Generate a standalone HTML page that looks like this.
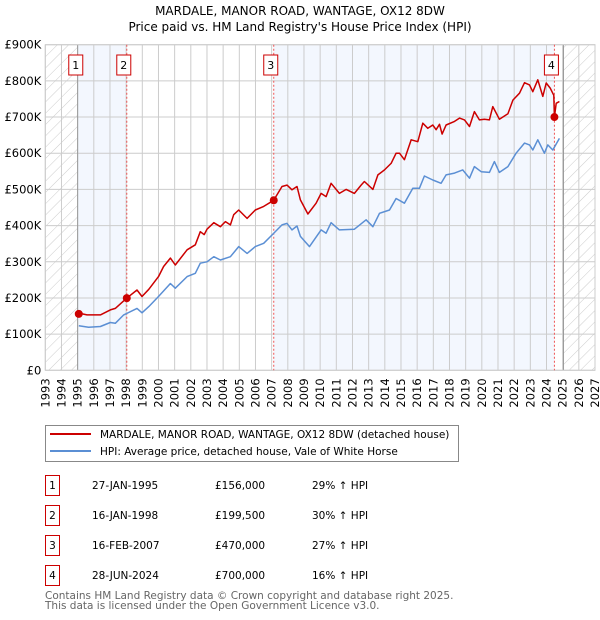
<!DOCTYPE html>
<html><head><meta charset="utf-8"><style>
body{margin:0;background:#fff;width:600px;height:620px;overflow:hidden;font-family:"DejaVu Sans","Liberation Sans",sans-serif}
svg{position:absolute;left:0;top:0}
</style></head><body>
<svg id="chart" width="600" height="620" font-family="DejaVu Sans, Liberation Sans, sans-serif">
<defs><pattern id="hatch" patternUnits="userSpaceOnUse" width="8" height="8" patternTransform="rotate(45)"><line x1="0" y1="0" x2="0" y2="8" stroke="#ccc" stroke-width="1"/></pattern></defs>
<text x="300" y="15" text-anchor="middle" font-size="12">MARDALE, MANOR ROAD, WANTAGE, OX12 8DW</text>
<text x="300" y="31" text-anchor="middle" font-size="12">Price paid vs. HM Land Registry's House Price Index (HPI)</text>
<g id="bg"></g><g id="grid"></g><g id="axes"></g><g id="series"></g><g id="marks"></g>
<g>
<rect x="45.5" y="425.5" width="413" height="36" fill="#fff" stroke="#888"/>
<line x1="50" y1="434" x2="91" y2="434" stroke="#cc0000" stroke-width="2"/>
<text x="100" y="438" font-size="10.5">MARDALE, MANOR ROAD, WANTAGE, OX12 8DW (detached house)</text>
<line x1="50" y1="451" x2="91" y2="451" stroke="#5b8fd4" stroke-width="2"/>
<text x="100" y="455" font-size="10.5">HPI: Average price, detached house, Vale of White Horse</text>
</g>
<g id="table" font-size="10.5"></g>
<text x="45" y="599" font-size="10.5" fill="#666">Contains HM Land Registry data © Crown copyright and database right 2025.</text>
<text x="45" y="609" font-size="10.5" fill="#666">This data is licensed under the Open Government Licence v3.0.</text>
</svg>
<script>
const hpiYears=[1995.07,1995.68,1996.41,1997.02,1997.33,1997.85,1998.67,1998.98,1999.4,2000.0,2000.74,2001.04,2001.77,2002.28,2002.59,2003.0,2003.42,2003.83,2004.45,2004.96,2005.48,2005.99,2006.51,2007.02,2007.64,2007.95,2008.26,2008.57,2008.78,2009.34,2010.06,2010.37,2010.68,2011.19,2012.12,2012.84,2013.26,2013.67,2014.29,2014.7,2015.21,2015.73,2016.14,2016.45,2016.97,2017.48,2017.79,2018.31,2018.82,2019.24,2019.54,2019.96,2020.47,2020.78,2021.09,2021.61,2022.12,2022.64,2022.95,2023.15,2023.46,2023.87,2024.08,2024.39,2024.8];
const hpiValues=[123,119,121,132,130,153,171,159,176,204,240,227,259,268,296,300,314,305,314,342,323,342,351,374,402,406,388,399,370,342,388,379,408,388,390,416,397,434,443,475,462,503,503,537,526,517,540,545,554,531,563,549,547,577,547,563,600,628,623,609,637,600,623,609,641];
const priceYears=[1995.07,1995.58,1996.41,1997.02,1997.33,1998.04,1998.67,1998.98,1999.4,2000.0,2000.32,2000.74,2001.04,2001.77,2002.28,2002.59,2002.83,2003.0,2003.42,2003.83,2004.14,2004.45,2004.65,2004.96,2005.48,2005.99,2006.51,2007.13,2007.64,2007.95,2008.26,2008.57,2008.78,2009.24,2009.75,2010.06,2010.37,2010.68,2011.19,2011.61,2012.12,2012.53,2012.74,2013.26,2013.57,2013.98,2014.39,2014.7,2014.91,2015.21,2015.63,2016.04,2016.35,2016.66,2016.97,2017.17,2017.38,2017.54,2017.79,2018.31,2018.62,2018.93,2019.24,2019.54,2019.85,2020.16,2020.47,2020.68,2021.09,2021.61,2021.92,2022.33,2022.64,2022.95,2023.15,2023.46,2023.77,2023.98,2024.23,2024.45,2024.49,2024.6,2024.8];
const priceValues=[158,153,153,167,171,199.5,222,204,224,259,287,310,291,333,347,383,375,390,408,397,411,402,430,443,420,443,453,470,508,512,499,508,471,432,462,489,480,517,489,500,489,512,522,500,540,554,572,600,600,582,637,632,683,669,678,665,680,653,678,688,697,692,674,715,692,694,692,729,694,709,747,766,795,789,770,803,757,794,780,760,700,738,743];
const saleYears=[1995.07,1998.04,2007.13,2024.49];
const saleValues=[156,199.5,470,700];
const saleLabels=["1","2","3","4"];
const saleDates=["27-JAN-1995","16-JAN-1998","16-FEB-2007","28-JUN-2024"];
const salePrices=["£156,000","£199,500","£470,000","£700,000"];
const saleHpi=["29% ↑ HPI","30% ↑ HPI","27% ↑ HPI","16% ↑ HPI"];
const yTicks=[0,100,200,300,400,500,600,700,800,900];
const yTickLabels=["£0","£100K","£200K","£300K","£400K","£500K","£600K","£700K","£800K","£900K"];
const xMin=1993,xMax=2027,L=45.3,R=595,T=44.7,B=370.3;
const NS="http://www.w3.org/2000/svg";
function X(y){return L+(y-xMin)/(xMax-xMin)*(R-L);}
function Y(v){return B-v/900*(B-T);}
function mk(tag,attrs,parent,txt){const e=document.createElementNS(NS,tag);for(const k in attrs)e.setAttribute(k,attrs[k]);if(txt!==undefined)e.textContent=txt;document.getElementById(parent).appendChild(e);return e;}
let e;
e=mk('rect',{x:L,y:T,width:R-L,height:B-T,fill:'#fff'},'bg');


e=mk('rect',{x:X(1995),y:T,width:X(1998.04)-X(1995),height:B-T,fill:'#eef3fd',opacity:0.7},'bg');


e=mk('rect',{x:X(2007.13),y:T,width:X(2024.49)-X(2007.13),height:B-T,fill:'#eef3fd',opacity:0.7},'bg');


e=mk('rect',{x:L,y:T,width:X(1995)-L,height:B-T,fill:'url(#hatch)'},'bg');


e=mk('rect',{x:X(2025.05),y:T,width:R-X(2025.05),height:B-T,fill:'url(#hatch)'},'bg');


for(let yr=xMin;yr<=xMax;yr++){
 e=mk('line',{x1:X(yr),x2:X(yr),y1:T,y2:B,stroke:'#ccc','stroke-width':1},'grid');
 
 
 e=mk('text',{x:0,y:0,transform:`translate(${X(yr)+4},${B+8}) rotate(-90)`,'text-anchor':'end','font-size':11.5},'axes',String(yr));
 
 
}
yTicks.forEach((v,i)=>{
 e=mk('line',{x1:L,x2:R,y1:Y(v),y2:Y(v),stroke:'#ccc','stroke-width':1},'grid');
 
 
 e=mk('text',{x:L-4,y:Y(v)+4,'text-anchor':'end','font-size':11.5},'axes',yTickLabels[i]);
 
 
});
e=mk('line',{x1:X(1995),x2:X(1995),y1:T,y2:B,stroke:'#999','stroke-width':1},'grid');


e=mk('line',{x1:X(2025.05),x2:X(2025.05),y1:T,y2:B,stroke:'#999','stroke-width':1},'grid');


e=mk('rect',{x:L,y:T,width:R-L,height:B-T,fill:'none',stroke:'#ccc'},'grid');


saleYears.forEach((yr,i)=>{
 if(i>0){e=mk('line',{x1:X(yr),x2:X(yr),y1:T,y2:B,stroke:'#ee5555','stroke-width':1,'stroke-dasharray':'2,2'},'grid');
 
 }
});
function path(xs,vs){return xs.map((x,i)=>(i?'L':'M')+X(x).toFixed(1)+','+Y(vs[i]).toFixed(1)).join('');}
e=mk('path',{d:path(hpiYears,hpiValues),fill:'none',stroke:'#5b8fd4','stroke-width':1.5,'stroke-linejoin':'round'},'series');


e=mk('path',{d:path(priceYears,priceValues),fill:'none',stroke:'#cc0000','stroke-width':1.5,'stroke-linejoin':'round'},'series');


saleYears.forEach((yr,i)=>{
 e=mk('circle',{cx:X(yr),cy:Y(saleValues[i]),r:4,fill:'#cc0000'},'marks');
 
 
 const bx=X(yr)-3;
 e=mk('rect',{x:bx-7,y:55,width:14,height:20,fill:'#fff',stroke:'#cc0000'},'marks');
 
 
 e=mk('text',{x:bx,y:69,'text-anchor':'middle','font-size':11},'marks',saleLabels[i]);
 
 
 const ry=475+i*30;
 e=mk('rect',{x:45.5,y:ry+0.5,width:14,height:20,fill:'#fff',stroke:'#cc0000'},'table');
 
 
 e=mk('text',{x:52.5,y:ry+14,'text-anchor':'middle'},'table',saleLabels[i]);
 
 
 e=mk('text',{x:92,y:ry+14},'table',saleDates[i]);
 
 
 e=mk('text',{x:215,y:ry+14},'table',salePrices[i]);
 
 
 e=mk('text',{x:312,y:ry+14},'table',saleHpi[i]);
 
 
});
</script>
</body></html>
